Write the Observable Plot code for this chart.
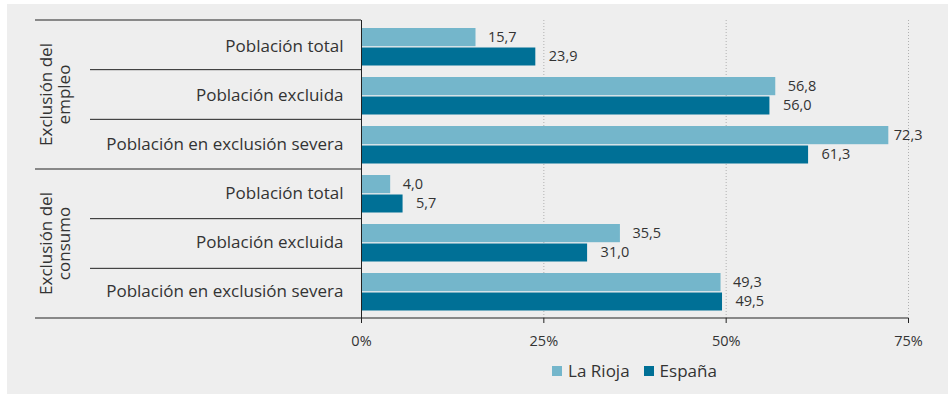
<!DOCTYPE html>
<html><head><meta charset="utf-8">
<script src="https://cdn.jsdelivr.net/npm/d3@7"></script>
<script src="https://cdn.jsdelivr.net/npm/@observablehq/plot@0.6"></script>
<style>
body{margin:0;background:#fff;font-family:"Open Sans",sans-serif;}
#bg{position:absolute;left:7px;top:4px;width:941px;height:390px;background:#eeeeee;}
#chart{position:absolute;left:0;top:0;}
#legend{position:absolute;left:361px;width:547px;top:361px;text-align:center;font-size:17px;color:#333;line-height:20px;}
#legend .item{display:inline-block;margin:0 7px;}
#legend .sw{display:inline-block;width:10px;height:10px;margin-right:6px;vertical-align:1px;}
</style></head>
<body>
<div id="bg"></div>
<div id="chart"></div>
<div id="legend"></div>
<script>
const groups = ["Exclusión del empleo", "Exclusión del consumo"];
const groupLines = [["Exclusión del", "empleo"], ["Exclusión del", "consumo"]];
const categories = ["Población total", "Población excluida", "Población en exclusión severa"];
const series = ["La Rioja", "España"];
const laRioja = [15.7, 56.8, 72.3, 4.0, 35.5, 49.3];
const espana = [23.9, 56.0, 61.3, 5.7, 31.0, 49.5];
const xTicks = [0, 25, 50, 75];
const colors = ["#74b6cb", "#007096"];

const rows = groups.flatMap(g => categories.map(c => `${g}|${c}`));
const data = rows.flatMap((r, i) => [
  {key: r, serie: series[0], value: laRioja[i]},
  {key: r, serie: series[1], value: espana[i]}
]);
const fmt = v => v.toFixed(1).replace(".", ",");
const s0 = data.filter(d => d.serie === series[0]);
const s1 = data.filter(d => d.serie === series[1]);
const FONT = "'Open Sans', sans-serif";

const plot = Plot.plot({
  width: 948, height: 350,
  marginTop: 20, marginBottom: 32, marginLeft: 361, marginRight: 40,
  style: {background: "transparent", fontFamily: FONT, color: "#333"},
  x: {domain: [0, 75]},
  y: {domain: rows, padding: 0, label: null},
  color: {domain: series, range: colors},
  marks: [
    Plot.gridX(xTicks.slice(1), {stroke: "#b0b0b0", strokeOpacity: 1, strokeDasharray: "1,2"}),
    Plot.barX(s0, {x: "value", y: "key", fill: "serie", insetTop: 6, insetBottom: 24.8}),
    Plot.barX(s1, {x: "value", y: "key", fill: "serie", insetTop: 25.5, insetBottom: 5.5}),
    Plot.text(s0.filter(d => d.value < 70), {x: "value", y: "key", text: d => fmt(d.value), dx: 12, dy: -9.4, textAnchor: "start", fontSize: 14.5, fill: "#333"}),
    Plot.text(s0.filter(d => d.value >= 70), {x: "value", y: "key", text: d => fmt(d.value), dx: 5, dy: -9.4, textAnchor: "start", fontSize: 14.5, fill: "#333"}),
    Plot.text(s1, {x: "value", y: "key", text: d => fmt(d.value), dx: 13, dy: 9.8, textAnchor: "start", fontSize: 14.5, fill: "#333"}),
    Plot.ruleX([0], {stroke: "#222"}),
    Plot.axisX({ticks: xTicks, tickFormat: d => d + "%", tickSize: 5, tickPadding: 12, fontSize: 14.5, stroke: "#222", label: null}),
    Plot.axisY({tickSize: 0, tickPadding: 18, fontSize: 17, tickFormat: d => d.split("|")[1], label: null})
  ]
});
document.getElementById("chart").appendChild(plot);

// separator lines and group labels derived from the plot's scales
const ys = plot.scale("y");
const yb = d3.scaleBand(ys.domain, ys.range)
  .paddingInner(ys.paddingInner ?? 0).paddingOuter(ys.paddingOuter ?? 0).align(ys.align ?? 0.5);
const xs = plot.scale("x");
const xl = d3.scaleLinear(xs.domain, xs.range);
const svg = d3.select(plot);
const g = svg.append("g").attr("stroke", "#222").attr("stroke-width", 1);
const x0 = xl(0);
rows.forEach((r, i) => {
  const y = yb(r);
  const startsGroup = i % categories.length === 0;
  g.append("line").attr("x1", startsGroup ? 35 : 90).attr("x2", x0).attr("y1", y).attr("y2", y);
});
const yEnd = yb(rows[rows.length - 1]) + yb.bandwidth();
g.append("line").attr("x1", 35).attr("x2", xl(75)).attr("y1", yEnd).attr("y2", yEnd);

groups.forEach((grp, gi) => {
  const rs = rows.filter(r => r.startsWith(grp + "|"));
  const cy = (yb(rs[0]) + yb(rs[rs.length - 1]) + yb.bandwidth()) / 2;
  const t = svg.append("text")
    .attr("transform", `translate(56,${cy}) rotate(-90)`)
    .attr("text-anchor", "middle").attr("font-size", 17).attr("fill", "#333")
    .attr("font-family", FONT);
  groupLines[gi].forEach((ln, li) => {
    t.append("tspan").attr("x", 0).attr("y", li === 0 ? -9 : 9).attr("dominant-baseline", "middle").text(ln);
  });
});

// legend
const leg = d3.select("#legend");
series.forEach((s, i) => {
  const it = leg.append("span").attr("class", "item");
  it.append("span").attr("class", "sw").style("background", colors[i]);
  it.append("span").text(s);
});
</script>
</body></html>
